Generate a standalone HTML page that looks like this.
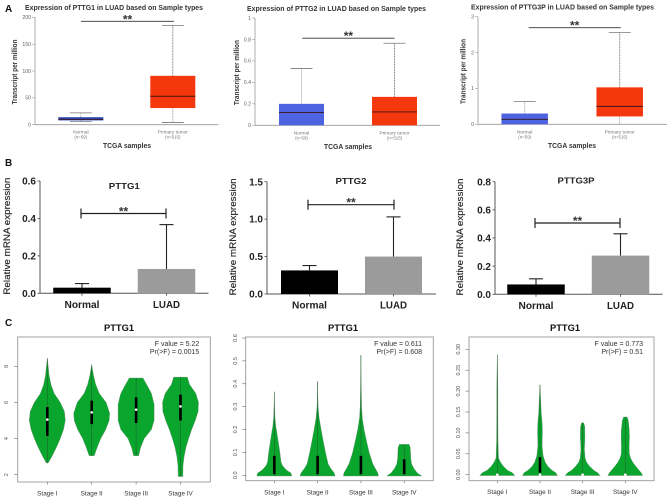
<!DOCTYPE html>
<html lang="en">
<head>
<meta charset="utf-8">
<title>PTTG expression in LUAD</title>
<style>
html,body{margin:0;padding:0;background:#fff;width:669px;height:500px;overflow:hidden}
svg{display:block;font-family:"Liberation Sans",sans-serif;filter:blur(0.35px)}
</style>
</head>
<body>
<svg id="figure" width="669" height="500" viewBox="0 0 669 500" xmlns="http://www.w3.org/2000/svg">
  <text x="5" y="12" font-size="10" font-weight="bold" fill="#111">A</text>
  <text x="5" y="166" font-size="10" font-weight="bold" fill="#111">B</text>
  <text x="5" y="326" font-size="10" font-weight="bold" fill="#111">C</text>
  <g id="a1"></g>
  <g id="a2"></g>
  <g id="a3"></g>
  <g id="b1"></g>
  <g id="b2"></g>
  <g id="b3"></g>
  <g id="c1"></g>
  <g id="c2"></g>
  <g id="c3"></g>
</svg>
<script>
/* ---- Panel A: box plots ---- */
const boxCategories = ['Normal', 'Primary tumor'];
const boxCounts = ['(n=59)', '(n=515)'];
const a1Ticks = [0, 50, 100, 150, 200];
const a1Min = [6, 4];
const a1Q1 = [8, 31];
const a1Median = [10, 53];
const a1Q3 = [14, 91];
const a1Max = [22, 185];
const a2Ticks = [0, 0.2, 0.4, 0.6, 0.8, 1];
const a2Min = [0, 0];
const a2Q1 = [0, 0];
const a2Median = [0.12, 0.125];
const a2Q3 = [0.2, 0.265];
const a2Max = [0.53, 0.765];
const a3Ticks = [0, 1, 2, 3];
const a3Min = [0, 0];
const a3Q1 = [0, 0.22];
const a3Median = [0.14, 0.5];
const a3Q3 = [0.3, 1.03];
const a3Max = [0.64, 2.56];

/* ---- Panel B: bar charts ---- */
const barCategories = ['Normal', 'LUAD'];
const b1Ticks = ['0.0', '0.2', '0.4', '0.6'];
const b1Values = [0.03, 0.13];
const b1ErrorTops = [0.052, 0.367];
const b2Ticks = ['0.0', '0.5', '1.0', '1.5'];
const b2Values = [0.315, 0.5];
const b2ErrorTops = [0.38, 1.03];
const b3Ticks = ['0.0', '0.2', '0.4', '0.6', '0.8'];
const b3Values = [0.07, 0.275];
const b3ErrorTops = [0.11, 0.43];

/* ---- Panel C: violin plots ---- */
const stageCategories = ['Stage I', 'Stage II', 'Stage III', 'Stage IV'];
const c1Ticks = ['2', '4', '6', '8'];
const c1Levels = [
  [2.65, 3, 3.5, 4, 4.5, 5, 5.5, 6, 6.5, 7, 7.5, 8, 8.45],
  [3.05, 3.5, 4, 4.5, 5, 5.4, 6, 6.5, 7, 7.5, 8.1],
  [3.05, 3.5, 4, 4.5, 5, 5.9, 6.5, 7, 7.35],
  [1.9, 2.5, 3, 3.5, 4, 4.5, 5, 5.5, 6, 6.5, 7, 7.4]
];
const c1Density = [
  [0.05, 0.25, 0.5, 0.72, 0.9, 1, 0.95, 0.72, 0.38, 0.2, 0.1, 0.05, 0],
  [0.14, 0.3, 0.5, 0.78, 0.97, 1, 0.8, 0.42, 0.22, 0.1, 0],
  [0.14, 0.25, 0.45, 0.85, 1, 1, 0.85, 0.58, 0.38],
  [0.13, 0.14, 0.2, 0.3, 0.45, 0.62, 0.82, 0.98, 1, 0.85, 0.5, 0.38]
];
const c1Lower = [4.15, 4.8, 4.86, 5];
const c1Upper = [5.75, 6.1, 6.28, 6.43];
const c1Medians = [5.05, 5.45, 5.6, 5.78];

const c2Ticks = ['0.0', '0.1', '0.2', '0.3', '0.4', '0.5', '0.6'];
const c2Levels = [
  [-0.003, 0.01, 0.02, 0.03, 0.045, 0.06, 0.1, 0.15, 0.2, 0.21, 0.25, 0.3, 0.365],
  [-0.003, 0.01, 0.03, 0.05, 0.1, 0.15, 0.2, 0.25, 0.3, 0.35, 0.41],
  [-0.003, 0.01, 0.03, 0.05, 0.1, 0.15, 0.2, 0.25, 0.3, 0.4, 0.525],
  [-0.003, 0.01, 0.03, 0.05, 0.07, 0.1, 0.12, 0.135]
];
const c2Density = [
  [1, 0.95, 0.75, 0.6, 0.45, 0.38, 0.32, 0.22, 0.12, 0.09, 0.04, 0.015, 0],
  [1, 0.95, 0.75, 0.6, 0.45, 0.32, 0.2, 0.09, 0.03, 0.01, 0],
  [1, 0.97, 0.82, 0.68, 0.47, 0.32, 0.18, 0.08, 0.04, 0.015, 0],
  [1, 0.75, 0.55, 0.42, 0.38, 0.36, 0.35, 0.28]
];
const c2Lower = [0.005, 0.005, 0.005, 0.005];
const c2Upper = [0.085, 0.085, 0.085, 0.07];

const c3Ticks = ['0.00', '0.05', '0.10', '0.15', '0.20', '0.25', '0.30'];
const c3Levels = [
  [-0.002, 0.005, 0.01, 0.02, 0.03, 0.04, 0.08, 0.15, 0.2, 0.25, 0.287],
  [-0.002, 0.005, 0.01, 0.02, 0.03, 0.045, 0.07, 0.1, 0.12, 0.15, 0.18, 0.215],
  [-0.002, 0.005, 0.01, 0.02, 0.03, 0.04, 0.06, 0.09, 0.115, 0.124],
  [-0.002, 0.005, 0.01, 0.02, 0.03, 0.04, 0.05, 0.07, 0.09, 0.11, 0.13, 0.138]
];
const c3Density = [
  [1, 0.85, 0.6, 0.35, 0.18, 0.07, 0.04, 0.03, 0.03, 0.015, 0],
  [1, 0.9, 0.7, 0.45, 0.3, 0.18, 0.12, 0.14, 0.13, 0.07, 0.04, 0],
  [1, 0.85, 0.65, 0.4, 0.22, 0.14, 0.1, 0.13, 0.12, 0.06],
  [1, 0.9, 0.8, 0.6, 0.42, 0.3, 0.23, 0.22, 0.24, 0.22, 0.17, 0.1]
];
const c3Lower = [0, 0.005, 0, 0];
const c3Upper = [0.002, 0.042, 0.002, 0.002];
const c3Medians = [0, 0, 0, 0];

const NS = 'http://www.w3.org/2000/svg';

function linear(d0, d1, r0, r1) {
  return function (v) { return r0 + (v - d0) * (r1 - r0) / (d1 - d0); };
}
function mark(parent, tag, attrs, content) {
  const node = document.createElementNS(NS, tag);
  Object.keys(attrs).forEach(function (k) { node.setAttribute(k, attrs[k]); });
  if (content !== undefined) node.textContent = content;
  parent.appendChild(node);
  return node;
}
function label(parent, x, y, str, size, opts) {
  const o = opts || {};
  const attrs = { x: x, y: y, 'font-size': size, fill: o.fill || '#222', 'text-anchor': o.anchor || 'middle' };
  if (o.bold) attrs['font-weight'] = 'bold';
  if (o.len) { attrs.textLength = o.len; attrs.lengthAdjust = 'spacingAndGlyphs'; }
  if (o.rot) attrs.transform = 'rotate(-90 ' + x + ' ' + y + ')';
  return mark(parent, 'text', attrs, str);
}
function line(parent, x1, y1, x2, y2, stroke, width, dash) {
  const attrs = { x1: x1, y1: y1, x2: x2, y2: y2, stroke: stroke, 'stroke-width': width };
  if (dash) attrs['stroke-dasharray'] = dash;
  return mark(parent, 'line', attrs);
}

function drawBoxChart(id, title, ticks, mins, q1s, meds, q3s, maxs, L, blue) {
  const g = document.getElementById(id);
  const y = linear(ticks[0], ticks[ticks.length - 1], L.y0, L.y1);

  const t = label(g, L.titleX, L.titleY, title, 7, { bold: true, fill: '#333', len: L.titleLen });
  
  

  const yAxis = line(g, L.x0, L.y0, L.x0, L.y1, '#999', 0.8);
  
  
  const xAxis = line(g, L.x0, L.y0, L.x1, L.y0, '#999', 0.8);
  
  

  ticks.forEach(function (v) {
    const tick = line(g, L.x0 - 3, y(v), L.x0, y(v), '#999', 0.6);
    
    
    const tl = label(g, L.x0 - 4, y(v) + 1.8, String(v), 5.2, { anchor: 'end', fill: '#666' });
    
    
  });

  const yt = label(g, L.yTitleX, (L.y0 + L.y1) / 2 + 1, 'Transcript per million', 7.2, { bold: true, rot: true, fill: '#333', len: 65 });
  
  
  const xt = label(g, L.xTitleX, L.xTitleY, 'TCGA samples', 7, { bold: true, fill: '#333', len: 48 });
  
  

  const colors = [blue, '#f4370d'];
  boxCategories.forEach(function (cat, i) {
    const cx = L.firstX + i * L.step;
    const hw = L.boxW / 2;
    const whisker = line(g, cx, y(maxs[i]), cx, y(q3s[i]), i === 0 ? '#aaa' : '#777', 0.9, '1 0.6');
    
    
    const lower = line(g, cx, y(q1s[i]), cx, y(mins[i]), '#999', 0.8, '1 0.6');
    
    
    const capTop = line(g, cx - 11, y(maxs[i]), cx + 11, y(maxs[i]), '#777', 0.8);
    
    
    if (mins[i] > 0) {
      const capLow = line(g, cx - 11, y(mins[i]), cx + 11, y(mins[i]), '#777', 0.8);
      
      
    }
    const box = mark(g, 'rect', { x: cx - hw, y: y(q3s[i]), width: L.boxW, height: y(q1s[i]) - y(q3s[i]), fill: colors[i] });
    
    
    const med = line(g, cx - hw, y(meds[i]), cx + hw, y(meds[i]), '#3a1512', 0.9);
    
    
    const cl = label(g, cx, L.y0 + 9, cat, 4.8, { fill: '#777' });
    
    
    const nl = label(g, cx, L.y0 + 14, boxCounts[i], 4.4, { fill: '#777' });
    
    
  });

  const br = line(g, L.brX0, L.brY, L.brX1, L.brY, '#333', 0.9);
  
  
  const st = label(g, (L.brX0 + L.brX1) / 2, L.brY + 2, '**', 12, { bold: true, fill: '#333' });
  
  
}

function drawBarChart(id, title, ticks, vals, errs, L) {
  const g = document.getElementById(id);
  const top = Number(ticks[ticks.length - 1]);
  const y = linear(0, top, L.y0, L.y1);

  const t = label(g, L.titleX, L.titleY, title, 8.5, { bold: true, fill: '#222', len: title.length > 5 ? 37 : 31 });
  
  

  const yAxis = line(g, L.x0, L.y0, L.x0, L.y1, '#555', 1);
  
  
  const xAxis = line(g, L.x0, L.y0, L.x1, L.y0, '#555', 1);
  
  

  ticks.forEach(function (s) {
    const v = Number(s);
    const tick = line(g, L.x0 - 2.5, y(v), L.x0, y(v), '#555', 0.9);
    
    
    const tl = label(g, L.x0 - 4, y(v) + 3.6, s, 10, { anchor: 'end', bold: true, fill: '#222' });
    
    
  });

  const yt = label(g, L.yTitleX, (L.y0 + L.y1) / 2 - 1, 'Relative mRNA expression', 9.5, { rot: true, fill: '#222', len: 117 });
  
  
  yt.setAttribute('stroke', '#222');
  yt.setAttribute('stroke-width', '0.15');

  const colors = ['#000', '#9b9b9b'];
  barCategories.forEach(function (cat, i) {
    const cx = L.firstX + i * L.step;
    const hw = L.barW / 2;
    const err = line(g, cx, y(errs[i]), cx, y(vals[i]), '#222', 1.1);
    
    
    const cap = line(g, cx - 7, y(errs[i]), cx + 7, y(errs[i]), '#222', 1.1);
    
    
    const bar = mark(g, 'rect', { x: cx - hw, y: y(vals[i]), width: L.barW, height: L.y0 - y(vals[i]), fill: colors[i] });
    
    
    const xt = line(g, cx, L.y0, cx, L.y0 + 2.5, '#555', 0.9);
    
    
    const cl = label(g, cx, L.y0 + 14.5, cat, 10, { bold: true, fill: '#222', len: i === 0 ? 35 : 27 });
    
    
  });

  const br = line(g, L.brX0, L.brY, L.brX1, L.brY, '#222', 1.2);
  
  
  const e0 = line(g, L.brX0, L.brY - 5, L.brX0, L.brY + 5, '#222', 1.2);
  
  
  const e1 = line(g, L.brX1, L.brY - 5, L.brX1, L.brY + 5, '#222', 1.2);
  
  
  const st = label(g, (L.brX0 + L.brX1) / 2, L.brY + 2, '**', 12, { bold: true, fill: '#333' });
  
  
}

function drawViolinChart(id, ticks, levels, density, lower, upper, medians, stat1, stat2, L) {
  const g = document.getElementById(id);
  const y = linear(Number(ticks[0]), Number(ticks[ticks.length - 1]), L.tick0, L.tick1);

  const t = label(g, L.titleX, 331, 'PTTG1', 9.5, { bold: true, fill: '#111', len: 30 });
  
  

  const frame = mark(g, 'rect', { x: L.x0, y: L.yTop, width: L.x1 - L.x0, height: L.yBottom - L.yTop, fill: 'none', stroke: '#999', 'stroke-width': 0.9 });
  
  

  ticks.forEach(function (s) {
    const v = Number(s);
    const tick = line(g, L.x0 - 3.5, y(v), L.x0, y(v), '#666', 0.6);
    
    
    const tl = label(g, L.tickLabelX, y(v), s, 5.5, { rot: true, fill: '#555' });
    
    
  });

  const s1 = label(g, L.statX, 346, stat1, 7, { anchor: 'end', fill: '#333' });
  
  
  const s2 = label(g, L.statX, 354, stat2, 7, { anchor: 'end', fill: '#333' });
  
  

  stageCategories.forEach(function (cat, i) {
    const cx = L.firstX + i * L.step;
    const w = linear(0, 1, 0, L.halfW);
    const right = levels[i].map(function (lv, k) { return (cx + w(density[i][k])) + ',' + y(lv); });
    const left = levels[i].map(function (lv, k) { return (cx - w(density[i][k])) + ',' + y(lv); }).reverse();
    const v = mark(g, 'polygon', { points: right.concat(left).join(' '), fill: '#09a52d', stroke: '#6b8c70', 'stroke-width': 0.4, 'stroke-linejoin': 'round' });
    
    
    const lastLevel = levels[i][levels[i].length - 1];
    const axisLine = line(g, cx, y(levels[i][0]), cx, y(lastLevel), '#215c2c', 0.5);
    
    
    const iqr = mark(g, 'rect', { x: cx - 1.3, y: y(upper[i]), width: 2.6, height: y(lower[i]) - y(upper[i]), fill: '#000' });
    
    
    if (medians) {
      const m = mark(g, 'circle', { cx: cx, cy: y(medians[i]), r: 1.3, fill: '#fff' });
      
      
    }
    const xt = line(g, cx, L.yBottom, cx, L.yBottom + 2.5, '#666', 0.6);
    
    
    const cl = label(g, cx, L.stageY, cat, 6.4, { fill: '#333' });
    
    
  });
}

drawBoxChart('a1', 'Expression of PTTG1 in LUAD based on Sample types', a1Ticks, a1Min, a1Q1, a1Median, a1Q3, a1Max,
  { x0: 35, x1: 218.5, y0: 124.7, y1: 17.3, firstX: 80.8, step: 92, boxW: 45, titleX: 114, titleY: 10.2, titleLen: 178, yTitleX: 17, xTitleX: 127, xTitleY: 148, brX0: 81, brX1: 174, brY: 21.3 }, '#2f49b8');
drawBoxChart('a2', 'Expression of PTTG2 in LUAD based on Sample types', a2Ticks, a2Min, a2Q1, a2Median, a2Q3, a2Max,
  { x0: 255, x1: 440, y0: 125.3, y1: 18, firstX: 301.5, step: 93, boxW: 45, titleX: 336.5, titleY: 11, titleLen: 179, yTitleX: 239, xTitleX: 348, xTitleY: 149, brX0: 302.3, brX1: 394.5, brY: 38.2 }, '#4e63e0');
drawBoxChart('a3', 'Expression of PTTG3P in LUAD based on Sample types', a3Ticks, a3Min, a3Q1, a3Median, a3Q3, a3Max,
  { x0: 478, x1: 667, y0: 124.3, y1: 16.7, firstX: 524.7, step: 95, boxW: 46.5, titleX: 562.5, titleY: 9.7, titleLen: 183, yTitleX: 465.5, xTitleX: 572, xTitleY: 148, brX0: 528.7, brX1: 620.7, brY: 27.7 }, '#4e63e0');

drawBarChart('b1', 'PTTG1', b1Ticks, b1Values, b1ErrorTops,
  { x0: 40, x1: 208.5, y0: 293.3, y1: 181, firstX: 82, step: 84.5, barW: 57.5, titleX: 124.3, titleY: 189, yTitleX: 10, brX0: 81, brX1: 166, brY: 213.5 });
drawBarChart('b2', 'PTTG2', b2Ticks, b2Values, b2ErrorTops,
  { x0: 267, x1: 436, y0: 294, y1: 181.7, firstX: 309.5, step: 84, barW: 57, titleX: 351, titleY: 184, yTitleX: 236, brX0: 308, brX1: 394, brY: 204.7 });
drawBarChart('b3', 'PTTG3P', b3Ticks, b3Values, b3ErrorTops,
  { x0: 495, x1: 662.5, y0: 294.3, y1: 181.7, firstX: 536, step: 84.5, barW: 57.5, titleX: 576, titleY: 183.5, yTitleX: 463, brX0: 535, brX1: 620, brY: 223 });

drawViolinChart('c1', c1Ticks, c1Levels, c1Density, c1Lower, c1Upper, c1Medians, 'F value = 5.22', 'Pr(>F) = 0.0015',
  { x0: 17.7, x1: 210.3, yTop: 337, yBottom: 482, tick0: 474.7, tick1: 366.3, firstX: 47.3, step: 44.4, halfW: 18, titleX: 119, statX: 199.3, tickLabelX: 8, stageY: 495.5 });
drawViolinChart('c2', c2Ticks, c2Levels, c2Density, c2Lower, c2Upper, null, 'F value = 0.611', 'Pr(>F) = 0.608',
  { x0: 245.7, x1: 433.3, yTop: 337, yBottom: 480.7, tick0: 475.3, tick1: 338, firstX: 274.3, step: 43.3, halfW: 17.5, titleX: 343, statX: 422, tickLabelX: 237, stageY: 494.7 });
drawViolinChart('c3', c3Ticks, c3Levels, c3Density, c3Lower, c3Upper, c3Medians, 'F value = 0.773', 'Pr(>F) = 0.51',
  { x0: 469, x1: 654, yTop: 337, yBottom: 480.7, tick0: 474.7, tick1: 349.3, firstX: 497.3, step: 42.67, halfW: 17.5, titleX: 565, statX: 643, tickLabelX: 460, stageY: 494 });
</script>
</body>
</html>
